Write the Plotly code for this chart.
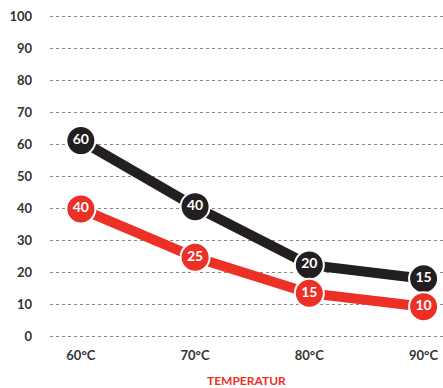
import plotly.graph_objects as go

categories = ["60°C", "70°C", "80°C", "90°C"]
black_labels = ["60", "40", "20", "15"]
black_values = [61.2, 40.6, 22.4, 18.1]
red_labels = ["40", "25", "15", "10"]
red_values = [39.9, 24.8, 13.6, 9.4]
y_ticks = [0, 10, 20, 30, 40, 50, 60, 70, 80, 90, 100]
x_title = "TEMPERATUR"

BLACK = "#231f20"
RED = "#ec3025"
FONT = "Lato"

x_pos = list(range(len(categories)))

W, H = 443, 388
M_L, M_R, M_T, M_B = 50, 0, 13, 48
plot_h = H - M_T - M_B

fig = go.Figure()
for vals, labels, color in [(black_values, black_labels, BLACK), (red_values, red_labels, RED)]:
    fig.add_trace(go.Scatter(
        x=x_pos, y=vals, text=labels,
        mode="lines+markers+text",
        line=dict(color=color, width=10),
        marker=dict(size=29, color=color, line=dict(color="white", width=2)),
        textposition="middle center",
        textfont=dict(family=FONT, size=14, color="white", weight="bold"),
        cliponaxis=False, hoverinfo="skip", showlegend=False,
    ))

fig.update_layout(
    width=W, height=H,
    margin=dict(l=M_L, r=M_R, t=M_T, b=M_B),
    paper_bgcolor="white", plot_bgcolor="white",
    showlegend=False,
    xaxis=dict(
        range=[-0.27, 3.17], tickvals=x_pos, ticktext=categories,
        showgrid=False, zeroline=False, showline=False, ticks="",
        tickfont=dict(family=FONT, size=13, color="#333333", weight="bold"),
        ticklabelstandoff=6, automargin=False, ticklabeloverflow="allow",
    ),
    yaxis=dict(
        range=[-1, 101], tickvals=y_ticks,
        showgrid=True, gridcolor="#888888", griddash="dot", gridwidth=1,
        zeroline=False, showline=False, ticks="",
        tickfont=dict(family=FONT, size=13, color="#333333", weight="bold"),
        ticklabelstandoff=17, automargin=False, ticklabeloverflow="allow",
    ),
    annotations=[dict(
        text=x_title, x=0.5, xref="paper", y=-40 / plot_h, yref="paper", yanchor="middle",
        showarrow=False, font=dict(family=FONT, size=12, color=RED, weight="bold"),
    )],
)

fig.write_html(
    "out.html",
    config={"displayModeBar": False, "staticPlot": True},
    post_script="document.body.style.margin='0';document.body.style.overflow='hidden';",
)
